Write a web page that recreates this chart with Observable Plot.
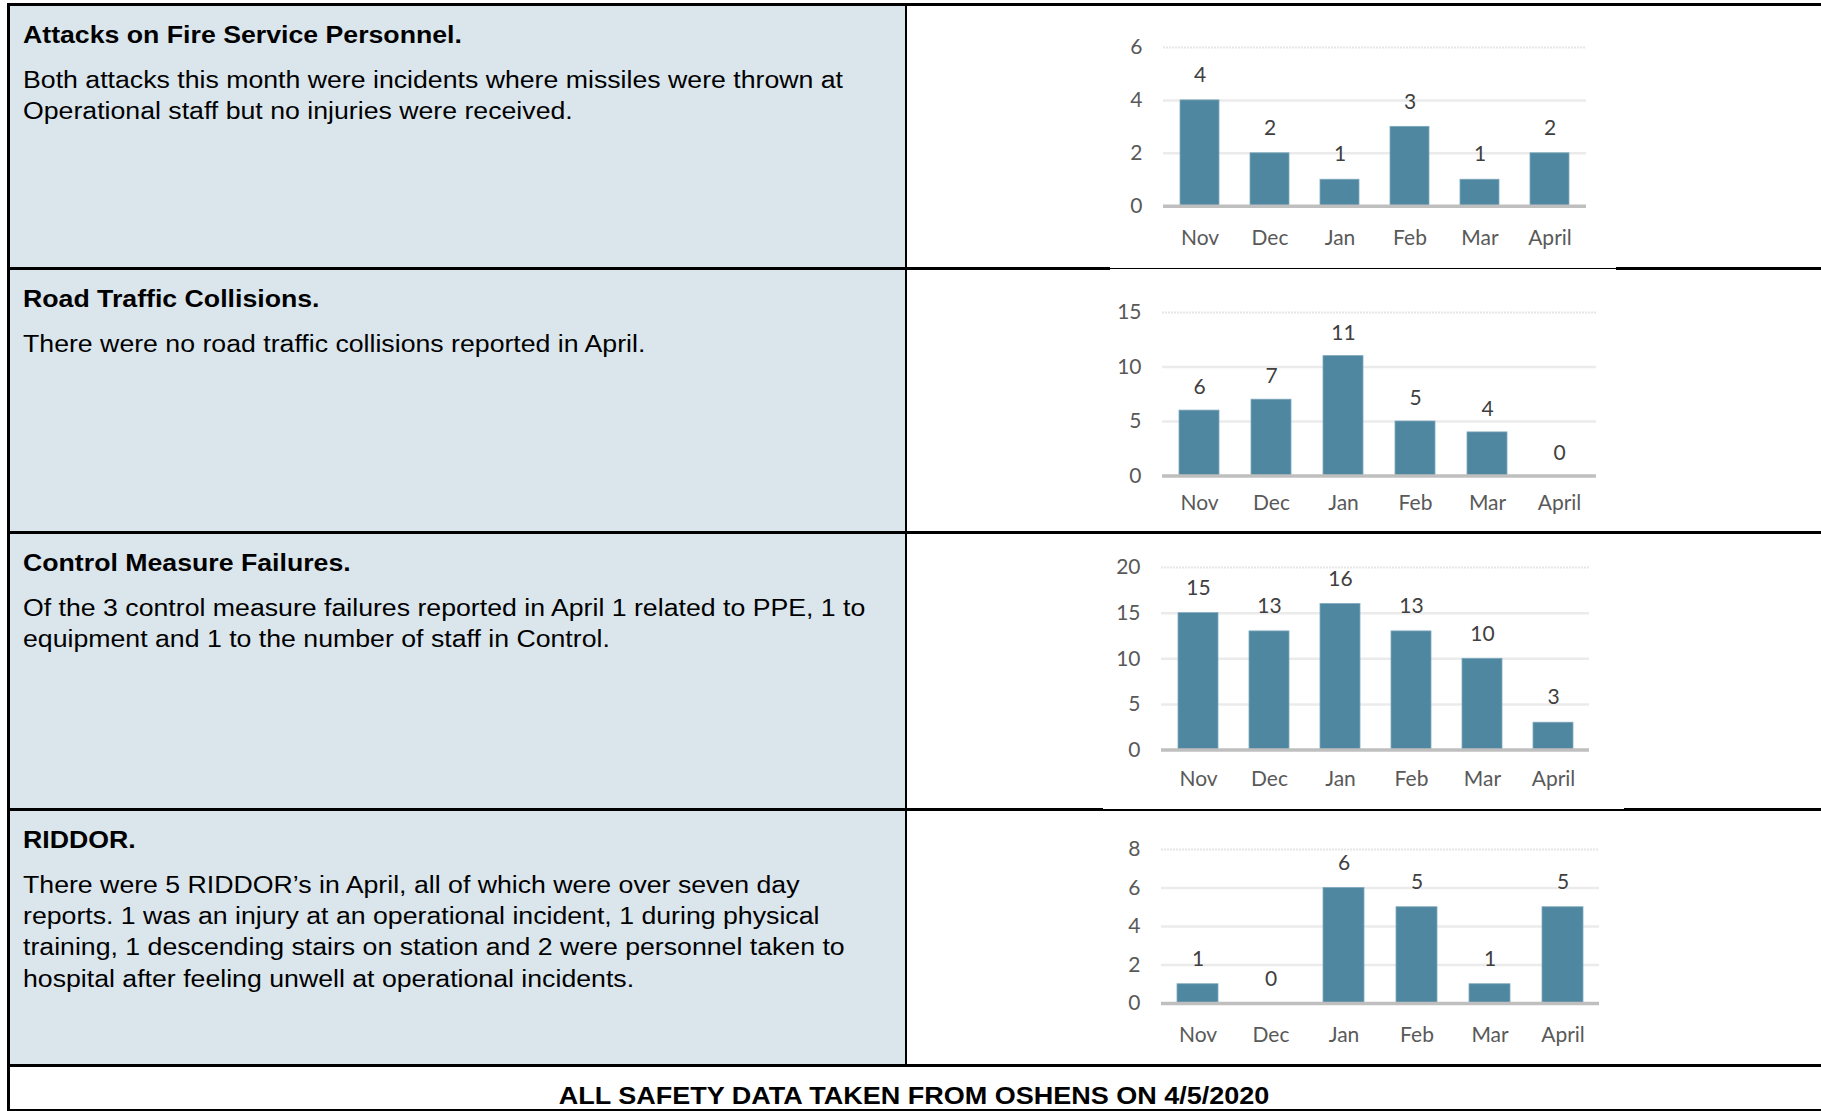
<!DOCTYPE html>
<html>
<head>
<meta charset="utf-8">
<script src="https://cdn.jsdelivr.net/npm/d3@7"></script>
<script src="https://cdn.jsdelivr.net/npm/@observablehq/plot@0.6"></script>
<style>
  html, body { margin: 0; padding: 0; background: #fff; }
  body { width: 1821px; height: 1111px; position: relative; overflow: hidden; font-family: "Liberation Sans", Arial, sans-serif; }
  .line { position: absolute; background: #000; }
  .cell { position: absolute; background: #dae6ec; }
  .title { position: absolute; left: 23px; font-weight: bold; font-size: 23px; line-height: 26px; color: #000; white-space: nowrap; transform: scaleX(1.16); transform-origin: 0 0; }
  .body { position: absolute; left: 23px; font-size: 23px; line-height: 31.4px; color: #000; white-space: nowrap; transform: scaleX(1.16); transform-origin: 0 0; }
  .chart { position: absolute; }
  .footer { position: absolute; left: 913.5px; top: 1083px; font-weight: bold; font-size: 24px; line-height: 26px; white-space: nowrap; transform: translateX(-50%) scaleX(1.125); }
</style>
</head>
<body>
<div id="root"></div>
<script>
// ---------- data ----------
const months = ["Nov", "Dec", "Jan", "Feb", "Mar", "April"];
const attacks = [4, 2, 1, 3, 1, 2];
const collisions = [6, 7, 11, 5, 4, 0];
const controlFailures = [15, 13, 16, 13, 10, 3];
const riddor = [1, 0, 6, 5, 1, 5];

const attacksTicks = [0, 2, 4, 6];
const collisionsTicks = [0, 5, 10, 15];
const controlTicks = [0, 5, 10, 15, 20];
const riddorTicks = [0, 2, 4, 6, 8];

const titles = [
  "Attacks on Fire Service Personnel.",
  "Road Traffic Collisions.",
  "Control Measure Failures.",
  "RIDDOR."
];
const texts = [
  ["Both attacks this month were incidents where missiles were thrown at", "Operational staff but no injuries were received."],
  ["There were no road traffic collisions reported in April."],
  ["Of the 3 control measure failures reported in April 1 related to PPE, 1 to", "equipment and 1 to the number of staff in Control."],
  ["There were 5 RIDDOR\u2019s in April, all of which were over seven day", "reports. 1 was an injury at an operational incident, 1 during physical", "training, 1 descending stairs on station and 2 were personnel taken to", "hospital after feeling unwell at operational incidents."]
];
const footerText = "ALL SAFETY DATA TAKEN FROM OSHENS ON 4/5/2020";

const seriesList = [attacks, collisions, controlFailures, riddor];
const tickList = [attacksTicks, collisionsTicks, controlTicks, riddorTicks];

// ---------- layout ----------
const rowTops = [4, 268, 532, 809, 1065];
const chartLayout = [
  { x0: 1163, x1: 1586, yTop: 47.3, yBase: 206, catPad: 24, labelDy: -25 },
  { x0: 1162, x1: 1596, yTop: 311.5, yBase: 475, catPad: 19, labelDy: -23 },
  { x0: 1161, x1: 1589, yTop: 566.7, yBase: 749.3, catPad: 20.5, labelDy: -25 },
  { x0: 1161, x1: 1599, yTop: 849.3, yBase: 1003.3, catPad: 23.5, labelDy: -24.5 }
];

const root = document.getElementById("root");
function add(cls, style, text) {
  const d = document.createElement("div");
  d.className = cls;
  Object.assign(d.style, style);
  if (text !== undefined) d.textContent = text;
  root.appendChild(d);
  return d;
}

// left cells background
for (let i = 0; i < 4; i++) {
  add("cell", { left: "9px", top: rowTops[i] + "px", width: "896px", height: (rowTops[i + 1] - rowTops[i]) + "px" });
}

// texts
for (let i = 0; i < 4; i++) {
  add("title", { top: (rowTops[i] + 18) + "px" }, titles[i]);
  const b = add("body", { top: (rowTops[i] + 60.5) + "px" });
  texts[i].forEach((t, k) => {
    if (k > 0) b.appendChild(document.createElement("br"));
    b.appendChild(document.createTextNode(t));
  });
}

// charts
for (let i = 0; i < 4; i++) {
  const L = chartLayout[i];
  const ticks = tickList[i];
  const yMax = ticks[ticks.length - 1];
  const data = months.map((m, j) => ({ month: m, value: seriesList[i][j] }));
  const svgLeft = 1060, mTop = 45, mBottom = 55, mRight = 30;
  const chart = Plot.plot({
    width: L.x1 + mRight - svgLeft,
    height: (L.yBase - L.yTop) + mTop + mBottom,
    marginLeft: L.x0 - svgLeft,
    marginRight: mRight,
    marginTop: mTop,
    marginBottom: mBottom,
    style: { fontFamily: "Lato, 'Open Sans', sans-serif", fontSize: "21px", background: "transparent", overflow: "visible" },
    x: { domain: months, paddingInner: 0.44, paddingOuter: 0.22, label: null },
    y: { domain: [0, yMax], label: null },
    marks: [
      Plot.ruleY(ticks.slice(1, -1), { stroke: "#ebebeb", strokeWidth: 2.5, strokeOpacity: 1 }),
      Plot.ruleY([yMax], { stroke: "#e6e6e6", strokeWidth: 2, strokeDasharray: "2,1", strokeOpacity: 1 }),
      Plot.barY(data, { x: "month", y: "value", fill: "#4f87a0", stroke: "#7fa9bc", strokeWidth: 0.8 }),
      Plot.ruleY([0], { stroke: "#bfbfbf", strokeWidth: 3.5 }),
      Plot.text(data, { x: "month", y: "value", text: d => String(d.value), dy: L.labelDy, fill: "#404040", fontSize: 21 }),
      Plot.axisY({ ticks: ticks, tickFormat: d => String(d), tickSize: 0, tickPadding: 21, fill: "#595959", fontSize: 21, label: null }),
      Plot.axisX({ tickSize: 0, tickPadding: L.catPad, fill: "#595959", fontSize: 21, label: null })
    ]
  });
  const holder = add("chart", { left: svgLeft + "px", top: (L.yTop - mTop) + "px" });
  holder.appendChild(chart);
}

// borders
function hline(x, y, w, h) { add("line", { left: x + "px", top: y + "px", width: w + "px", height: h + "px" }); }
hline(7, 3, 1820, 3);
hline(7, 266.5, 1103, 3); hline(1110, 267.5, 506, 1.5); hline(1616, 266.5, 210, 3);
hline(7, 530.5, 1820, 3);
hline(7, 808, 1096, 3); hline(1103, 809, 521, 1.5); hline(1624, 808, 200, 3);
hline(7, 1063.5, 1820, 3);
hline(7, 1108.5, 1820, 2.5);
hline(7, 3, 2.5, 1108);
hline(905, 3, 2, 1062);

add("footer", {}, footerText);
</script>
</body>
</html>
